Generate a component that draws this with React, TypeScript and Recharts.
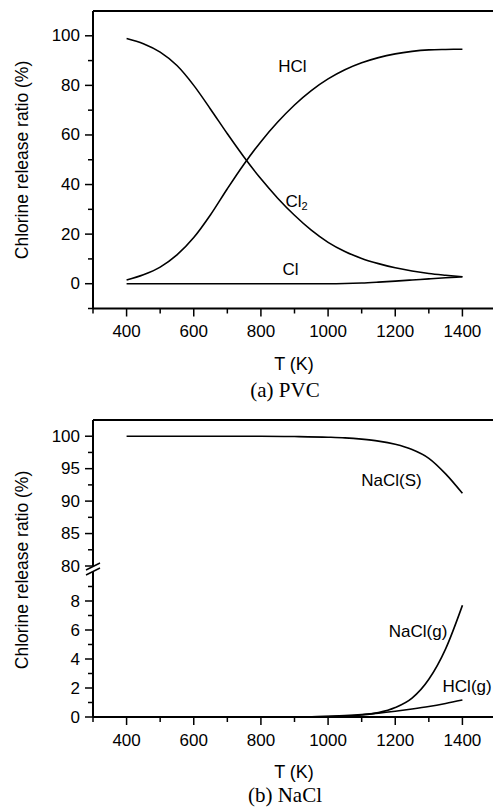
import React from 'react';
import { LineChart, Line, XAxis, YAxis, ReferenceLine, ReferenceDot } from 'recharts';

// (a) PVC
const tPvc = [400, 450, 500, 550, 600, 650, 700, 750, 800, 850, 900, 950, 1000, 1050, 1100, 1150, 1200, 1250, 1300, 1350, 1400];
const cl2Pvc = [98.9, 96.8, 93.4, 88.0, 80.0, 70.4, 60.5, 51.0, 42.3, 34.5, 27.6, 21.6, 16.7, 13.0, 10.2, 8.1, 6.4, 5.1, 4.1, 3.4, 2.8];
const hclPvc = [1.5, 3.6, 6.7, 11.6, 18.6, 27.8, 38.3, 48.3, 57.3, 65.2, 72.1, 77.9, 82.6, 86.3, 89.1, 91.2, 92.7, 93.7, 94.3, 94.5, 94.6];
const clPvc = [0, 0, 0, 0, 0, 0, 0, 0, 0, 0, 0, 0, 0, 0.08, 0.3, 0.65, 1.05, 1.5, 1.95, 2.4, 2.8];

// (b) NaCl
const tNacl = [400, 500, 600, 700, 800, 900, 1000, 1050, 1100, 1150, 1200, 1250, 1300, 1350, 1400];
const naclS = [100, 100, 100, 100, 100, 99.95, 99.85, 99.75, 99.55, 99.25, 98.75, 97.95, 96.6, 94.2, 91.2];
const tGas = [900, 950, 1000, 1050, 1100, 1150, 1200, 1250, 1300, 1350, 1400];
const naclG = [0, 0.01, 0.03, 0.07, 0.14, 0.3, 0.65, 1.3, 2.6, 4.7, 7.7];
const hclG = [0, 0.02, 0.05, 0.1, 0.17, 0.27, 0.4, 0.55, 0.72, 0.93, 1.17];

// ticks
const xTicks = [300, 400, 500, 600, 700, 800, 900, 1000, 1100, 1200, 1300, 1400, 1500];
const xMajor = [400, 600, 800, 1000, 1200, 1400];
const yTicksPvc = [-10, 0, 10, 20, 30, 40, 50, 60, 70, 80, 90, 100];
const yMajorPvc = [0, 20, 40, 60, 80, 100];
const yTicksHigh = [80, 82.5, 85, 87.5, 90, 92.5, 95, 97.5, 100];
const yMajorHigh = [80, 85, 90, 95, 100];
const yTicksLow = [0, 1, 2, 3, 4, 5, 6, 7, 8, 9];
const yMajorLow = [0, 2, 4, 6, 8];

// curve labels (data coords)
const pvcLabels = [
  { name: 'HCl', t: 894, v: 87.5 },
  { name: 'Cl2', t: 906, v: 33 },
  { name: 'Cl', t: 888, v: 5.6 },
];
const highLabels = [{ name: 'NaCl(S)', t: 1189, v: 93.2 }];
const lowLabels = [
  { name: 'NaCl(g)', t: 1268, v: 5.9 },
  { name: 'HCl(g)', t: 1414, v: 2.1 },
];

const pts = (ts: number[], vs: number[]) => ts.map((t, i) => ({ t, v: vs[i] }));

const SANS = '"Liberation Sans", Arial, sans-serif';
const SERIF = '"Liberation Serif", "Times New Roman", serif';
const W = 510;
const H = 808;

const makeYTick = (majors: number[]) => (props: any) => {
  const { x, y, payload } = props;
  const major = majors.includes(payload.value);
  return (
    <g>
      <line x1={x} x2={x - (major ? 8 : 5)} y1={y} y2={y} stroke="#000" strokeWidth={1.5} />
      {major && (
        <text x={x - 13} y={y} textAnchor="end" dominantBaseline="central" fontSize={17} fontFamily={SANS} fill="#000">
          {payload.value}
        </text>
      )}
    </g>
  );
};

const XTick = (props: any) => {
  const { x, y, payload } = props;
  const major = xMajor.includes(payload.value);
  return (
    <g>
      <line x1={x} x2={x} y1={y} y2={y + (major ? 8 : 5)} stroke="#000" strokeWidth={1.5} />
      {major && (
        <text x={x} y={y + 23} textAnchor="middle" dominantBaseline="central" fontSize={17} fontFamily={SANS} fill="#000">
          {payload.value}
        </text>
      )}
    </g>
  );
};

const YTitle = ({ cy }: { cy: number }) => (
  <text x={22} y={cy} transform={`rotate(-90 22 ${cy})`} textAnchor="middle" dominantBaseline="central"
    fontSize={17.5} fontFamily={SANS} fill="#000">
    Chlorine release ratio (%)
  </text>
);

const XTitle = ({ axisY, caption, capDy = 81 }: { axisY: number; caption: string; capDy?: number }) => (
  <g>
    <text x={294} y={axisY + 55} textAnchor="middle" dominantBaseline="central" fontSize={18} fontFamily={SANS} fill="#000">
      T (K)
    </text>
    <text x={285} y={axisY + capDy} textAnchor="middle" dominantBaseline="central" fontSize={21} fontFamily={SERIF} fill="#000">
      {caption}
    </text>
  </g>
);

const CurveLabel = (props: any) => {
  const { viewBox, value } = props;
  const cx = viewBox.x + (viewBox.width || 0) / 2;
  const cy = viewBox.y + (viewBox.height || 0) / 2;
  if (value === 'Cl2') {
    return (
      <text x={cx} y={cy} textAnchor="middle" dominantBaseline="central" fontSize={17} fontFamily={SANS} fill="#000">
        Cl<tspan fontSize={11} dy={4}>2</tspan>
      </text>
    );
  }
  return (
    <text x={cx} y={cy} textAnchor="middle" dominantBaseline="central" fontSize={17} fontFamily={SANS} fill="#000">
      {value}
    </text>
  );
};

const abs: React.CSSProperties = { position: 'absolute', left: 0, top: 0 };

export default function App() {
  return (
    <div style={{ position: 'absolute', left: 0, top: 0, width: 493, height: 808, overflow: 'hidden', background: '#fff' }}>
      {/* (a) PVC */}
      <div style={abs}>
        <LineChart width={W} height={H} margin={{ top: 11, right: 14, left: 33, bottom: 469.5 }}>
          <XAxis type="number" dataKey="t" domain={[300, 1500]} ticks={xTicks} interval={0} allowDataOverflow
            tickSize={0} tickMargin={0} tickLine={false} tick={XTick} height={30}
            axisLine={{ stroke: '#000', strokeWidth: 2 }}
            label={<XTitle axisY={308.5} caption="(a) PVC" />} />
          <YAxis type="number" domain={[-10, 110]} ticks={yTicksPvc} interval={0} allowDataOverflow width={60}
            tickSize={0} tickMargin={0} tickLine={false} tick={makeYTick(yMajorPvc)}
            axisLine={{ stroke: '#000', strokeWidth: 2 }}
            label={<YTitle cy={160} />} />
          <ReferenceLine y={110} stroke="#000" strokeWidth={2} />
          <ReferenceLine x={1500} stroke="#000" strokeWidth={2} />
          <Line data={pts(tPvc, cl2Pvc)} dataKey="v" type="monotone" stroke="#000" strokeWidth={1.6} dot={false} isAnimationActive={false} />
          <Line data={pts(tPvc, hclPvc)} dataKey="v" type="monotone" stroke="#000" strokeWidth={1.6} dot={false} isAnimationActive={false} />
          <Line data={pts(tPvc, clPvc)} dataKey="v" type="monotone" stroke="#000" strokeWidth={1.6} dot={false} isAnimationActive={false} />
          {pvcLabels.map((l) => (
            <ReferenceDot key={l.name} x={l.t} y={l.v} r={0} stroke="none" fill="none" label={<CurveLabel value={l.name} />} />
          ))}
        </LineChart>
      </div>

      {/* (b) NaCl, upper segment */}
      <div style={abs}>
        <LineChart width={W} height={H} margin={{ top: 420, right: 14, left: 33, bottom: 242 }}>
          <XAxis type="number" dataKey="t" domain={[300, 1500]} allowDataOverflow hide />
          <YAxis type="number" domain={[80, 102.5]} ticks={yTicksHigh} interval={0} allowDataOverflow width={60}
            tickSize={0} tickMargin={0} tickLine={false} tick={makeYTick(yMajorHigh)}
            axisLine={{ stroke: '#000', strokeWidth: 2 }} />
          <ReferenceLine y={102.5} stroke="#000" strokeWidth={2} />
          <ReferenceLine x={1500} stroke="#000" strokeWidth={2} />
          <Line data={pts(tNacl, naclS)} dataKey="v" type="monotone" stroke="#000" strokeWidth={1.6} dot={false} isAnimationActive={false} />
          {highLabels.map((l) => (
            <ReferenceDot key={l.name} x={l.t} y={l.v} r={0} stroke="none" fill="none" label={<CurveLabel value={l.name} />} />
          ))}
        </LineChart>
      </div>

      {/* (b) NaCl, lower segment */}
      <div style={abs}>
        <LineChart width={W} height={H} margin={{ top: 572, right: 14, left: 33, bottom: 61 }}>
          <XAxis type="number" dataKey="t" domain={[300, 1500]} ticks={xTicks} interval={0} allowDataOverflow
            tickSize={0} tickMargin={0} tickLine={false} tick={XTick} height={30}
            axisLine={{ stroke: '#000', strokeWidth: 2 }}
            label={<XTitle axisY={717} caption="(b) NaCl" capDy={78} />} />
          <YAxis type="number" domain={[0, 10]} ticks={yTicksLow} interval={0} allowDataOverflow width={60}
            tickSize={0} tickMargin={0} tickLine={false} tick={makeYTick(yMajorLow)}
            axisLine={{ stroke: '#000', strokeWidth: 2 }}
            label={<YTitle cy={570} />} />
          <ReferenceLine x={1500} stroke="#000" strokeWidth={2} />
          <Line data={pts(tGas, naclG)} dataKey="v" type="monotone" stroke="#000" strokeWidth={1.6} dot={false} isAnimationActive={false} />
          <Line data={pts(tGas, hclG)} dataKey="v" type="monotone" stroke="#000" strokeWidth={1.6} dot={false} isAnimationActive={false} />
          {lowLabels.map((l) => (
            <ReferenceDot key={l.name} x={l.t} y={l.v} r={0} stroke="none" fill="none" label={<CurveLabel value={l.name} />} />
          ))}
        </LineChart>
      </div>

      {/* axis break marks */}
      <svg style={abs} width={493} height={808} pointerEvents="none">
        <line x1={86} y1={570} x2={100} y2={563} stroke="#000" strokeWidth={1.5} />
        <line x1={86} y1={575} x2={100} y2={568} stroke="#000" strokeWidth={1.5} />
      </svg>
    </div>
  );
}
